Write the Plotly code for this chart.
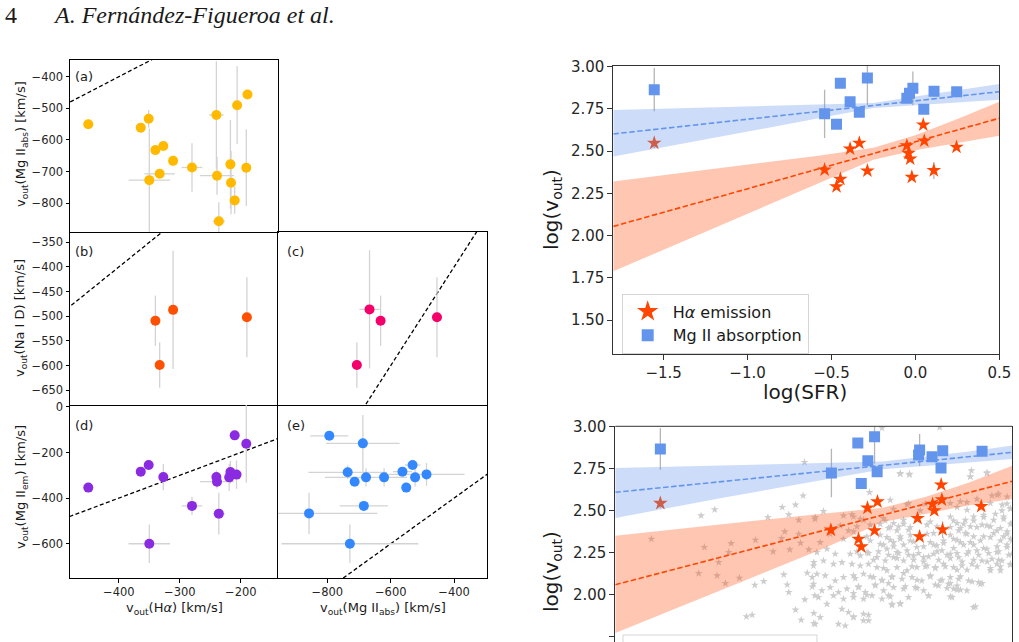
import plotly.graph_objects as go

W, H = 1019, 642
FONT = "DejaVu Sans"

# ---------------- data: left grid (velocities in km/s) ----------------
# (a) v_out(Halpha) vs v_out(Mg II abs)
a_vha = [-450, -364, -351, -350, -340, -327, -333, -311, -280, -240, -239, -236, -206, -189, -217, -216, -210, -191]
a_vmgabs = [-550, -561, -533, -727, -632, -619, -707, -666, -687, -521, -713, -857, -490, -456, -677, -735, -791, -688]
a_vha_err = [0, 0, 0, 34, 0, 0, 25, 0, 17, 12, 28, 10, 0, 0, 0, 0, 0, 0]
a_vmgabs_err = [8, 15, 28, 163, 12, 12, 10, 15, 77, 170, 60, 60, 123, 10, 140, 100, 42, 121]

# (b) v_out(Halpha) vs v_out(Na I D)
b_vha = [-340, -333, -311, -190]
b_vnad = [-509, -599, -487, -502]
b_vha_err = [0, 0, 0, 0]
b_vnad_err = [51, 46, 120, 81]

# (c) v_out(Mg II abs) vs v_out(Na I D)
c_vmgabs = [-667, -632, -707, -454]
c_vnad = [-486, -509, -599, -502]
c_vmgabs_err = [32, 13, 0, 0]
c_vnad_err = [120, 51, 46, 81]

# (d) v_out(Halpha) vs v_out(Mg II em)
d_vha = [-450, -364, -351, -327, -280, -240, -239, -236, -210, -191, -217, -219, -207, -350]
d_vmgem = [-354, -284, -255, -308, -434, -308, -328, -468, -125, -162, -286, -309, -297, -600]
d_vha_err = [0, 0, 0, 0, 17, 0, 28, 10, 0, 0, 0, 0, 0, 34]
d_vmgem_err = [0, 0, 0, 58, 40, 30, 30, 91, 20, 171, 50, 60, 62, 84]

# (e) v_out(Mg II abs) vs v_out(Mg II em)
e_vmgabs = [-794, -688, -736, -714, -678, -621, -563, -531, -523, -487, -551, -685, -858, -729]
e_vmgem = [-127, -160, -287, -328, -309, -309, -284, -255, -309, -296, -354, -434, -467, -600]
e_vmgabs_err = [60, 116, 124, 0, 130, 0, 30, 25, 0, 120, 0, 76, 216, 216]
e_vmgem_err = [15, 124, 30, 0, 40, 40, 0, 0, 40, 50, 0, 0, 91, 84]

one_to_one = [-1000, 0]

# ---------------- data: right panels (log SFR vs log v_out) ----------------
top_sfr_ha = [-1.556, -0.541, -0.470, -0.447, -0.389, -0.334, -0.286, -0.051, -0.041, -0.031, -0.021, 0.047, 0.053, 0.110, 0.245]
top_v_ha = [2.548, 2.390, 2.291, 2.335, 2.514, 2.548, 2.384, 2.533, 2.488, 2.455, 2.347, 2.656, 2.561, 2.386, 2.524]
top_v_ha_err = [0.03, 0, 0, 0, 0, 0, 0, 0, 0, 0, 0, 0, 0, 0.05, 0]
top_sfr_mg = [-1.556, -0.541, -0.470, -0.447, -0.389, -0.334, -0.286, -0.051, -0.035, -0.015, 0.050, 0.111, 0.246]
top_v_mg = [2.864, 2.721, 2.660, 2.902, 2.793, 2.731, 2.933, 2.813, 2.843, 2.872, 2.748, 2.855, 2.851]
top_v_mg_err = [0.128, 0.143, 0, 0, 0, 0, 0.16, 0, 0, 0.10, 0, 0, 0]

bot_sfr_ha = [-1.539, -0.551, -0.391, -0.375, -0.339, -0.281, -0.298, -0.049, -0.037, 0.038, 0.048, 0.088, 0.092, 0.096, 0.320]
bot_v_ha = [2.542, 2.383, 2.329, 2.283, 2.514, 2.551, 2.379, 2.452, 2.343, 2.537, 2.498, 2.652, 2.563, 2.385, 2.524]
bot_v_ha_err = [0.03, 0, 0, 0, 0, 0, 0, 0, 0, 0, 0, 0, 0, 0.05, 0]
bot_sfr_mg = [-1.539, -0.548, -0.395, -0.298, -0.337, -0.283, -0.375, -0.037, -0.043, 0.035, 0.097, 0.087, 0.325]
bot_v_mg = [2.865, 2.722, 2.901, 2.938, 2.795, 2.730, 2.660, 2.859, 2.829, 2.819, 2.855, 2.752, 2.851]
bot_v_mg_err = [0.124, 0.145, 0, 0.16, 0, 0, 0, 0.095, 0, 0, 0, 0, 0]

# fits and confidence bands
fit_sfr = [-1.8, -1.2, -0.6, -0.25, 0.0, 0.25, 0.5]
top_mg_fit = [2.602, 2.667, 2.732, 2.770, 2.798, 2.825, 2.852]
top_mg_hi = [2.744, 2.760, 2.776, 2.785, 2.823, 2.860, 2.898]
top_mg_lo = [2.468, 2.579, 2.690, 2.755, 2.772, 2.788, 2.805]
top_ha_fit = [2.055, 2.222, 2.389, 2.486, 2.555, 2.625, 2.695]
top_ha_hi = [2.321, 2.395, 2.470, 2.520, 2.595, 2.690, 2.793]
top_ha_lo = [1.789, 2.045, 2.300, 2.450, 2.505, 2.550, 2.591]

bot_mg_fit = [2.607, 2.669, 2.731, 2.767, 2.793, 2.819, 2.845]
bot_mg_hi = [2.752, 2.765, 2.780, 2.790, 2.820, 2.850, 2.885]
bot_mg_lo = [2.454, 2.570, 2.680, 2.745, 2.765, 2.785, 2.805]
bot_ha_fit = [2.057, 2.218, 2.378, 2.472, 2.539, 2.606, 2.673]
bot_ha_hi = [2.349, 2.415, 2.480, 2.515, 2.580, 2.665, 2.765]
bot_ha_lo = [1.770, 2.020, 2.270, 2.430, 2.480, 2.530, 2.567]

# comparison sample (grey stars, bottom panel) -- read in three sweeps
cmp_sfr_a = [-0.704, -0.712, -0.833, -0.756, -0.795, -0.916, -0.737, -0.644, -1.303, -1.224,
             -1.591, -1.284, -1.129, -1.143, -0.988, -0.818, -0.837, -0.737, -0.727, -0.789,
             -0.886, -0.679, -1.201, -1.317, -1.210, -1.162, -1.081, -0.992, -0.940, -0.824,
             -0.804, -0.795, -0.688, -0.659, -0.650, -0.659, -0.702, -0.644, -0.756, -0.723,
             -0.650, -0.650, -1.040, -1.007]
cmp_v_a = [2.786, 2.587, 2.518, 2.532, 2.474, 2.458, 2.442, 2.448, 2.468, 2.504,
           2.329, 2.280, 2.303, 2.250, 2.323, 2.373, 2.333, 2.359, 2.305, 2.266,
           2.254, 2.266, 2.190, 2.125, 2.111, 2.065, 2.097, 2.055, 2.077, 2.117,
           2.057, 2.012, 2.127, 2.101, 2.190, 2.045, 1.968, 1.992, 1.907, 1.847,
           1.887, 1.827, 1.867, 1.877]
cmp_sfr_b = [-0.255, 0.079, -0.149, -0.097, 0.263, 0.257, 0.353, -0.327, -0.207, -0.594,
             -0.642, -0.478, -0.429, -0.381, -0.188, -0.110, -0.033, -0.004, 0.180, 0.237,
             0.295, 0.382, 0.421, 0.469, 0.489, 0.440, 0.402, 0.450, 0.489, 0.334,
             0.276, 0.218, 0.160, 0.141, 0.189, 0.237, 0.295, 0.353, 0.411, 0.469,
             0.489, 0.431, 0.373, 0.315, 0.257, 0.199, 0.160, 0.102, 0.063, 0.025,
             0.006, -0.091, -0.130, -0.168, -0.207, -0.236, -0.265, -0.226, -0.188, -0.149,
             -0.091, -0.053, -0.110, -0.168, -0.226, -0.265, -0.323, -0.478, -0.449, -0.497,
             -0.555, -0.613, -0.632, -0.574, -0.526, -0.439, -0.381, -0.342, -0.284, -0.236,
             -0.188, -0.130, -0.072, -0.014, 0.044, 0.092, 0.141, 0.189, 0.237, 0.295,
             0.353, 0.411, 0.469, 0.498, 0.440, 0.382, 0.324, 0.266, 0.208, 0.160,
             0.102, 0.054, 0.006, -0.053, -0.110, -0.168, -0.226, -0.284, -0.333, -0.381,
             -0.429, -0.487, -0.536, -0.594, -0.652, -0.632, -0.584, -0.526, -0.478, -0.420,
             -0.362, -0.304, -0.255, -0.197, -0.139, -0.081, -0.024, 0.025, 0.083, 0.141,
             0.189, 0.247, 0.315, 0.373, 0.431, 0.489, 0.411, -0.652, -0.603, -0.555,
             -0.507, -0.458, -0.391, -0.352, -0.294, -0.246, -0.188, -0.130, -0.062, -0.014,
             0.073, 0.131, 0.180, 0.237, 0.305, -0.623, -0.574, -0.536, -0.478, -0.420,
             -0.362, -0.313, -0.255, -0.217, -0.149, -0.197, -0.101, 0.015, 0.151, 0.160,
             0.276, -0.487, -0.449, -0.613, -0.642, -0.507, -0.468, -0.420, -0.362, -0.333]
cmp_v_b = [2.990, 2.994, 2.716, 2.712, 2.736, 2.700, 2.720, 2.607, 2.561, 2.494,
           2.458, 2.468, 2.474, 2.448, 2.508, 2.534, 2.498, 2.538, 2.518, 2.547,
           2.567, 2.587, 2.597, 2.538, 2.508, 2.498, 2.478, 2.448, 2.418, 2.458,
           2.438, 2.418, 2.438, 2.399, 2.379, 2.359, 2.399, 2.409, 2.379, 2.359,
           2.329, 2.319, 2.339, 2.319, 2.309, 2.309, 2.329, 2.319, 2.290, 2.309,
           2.359, 2.399, 2.418, 2.379, 2.399, 2.438, 2.418, 2.339, 2.309, 2.329,
           2.319, 2.280, 2.260, 2.250, 2.270, 2.299, 2.319, 2.329, 2.379, 2.409,
           2.359, 2.309, 2.250, 2.270, 2.240, 2.240, 2.230, 2.250, 2.220, 2.200,
           2.220, 2.200, 2.230, 2.220, 2.240, 2.260, 2.240, 2.220, 2.240, 2.260,
           2.270, 2.250, 2.280, 2.240, 2.200, 2.210, 2.200, 2.180, 2.170, 2.160,
           2.180, 2.160, 2.170, 2.160, 2.141, 2.160, 2.141, 2.160, 2.180, 2.170,
           2.180, 2.190, 2.180, 2.200, 2.170, 2.121, 2.111, 2.081, 2.101, 2.111,
           2.121, 2.101, 2.081, 2.101, 2.091, 2.101, 2.081, 2.111, 2.081, 2.101,
           2.091, 2.081, 2.061, 2.141, 2.141, 2.180, 2.180, 2.061, 2.022, 2.041,
           2.012, 2.032, 2.041, 2.012, 2.051, 2.022, 2.041, 2.032, 2.041, 2.022,
           2.051, 2.061, 2.051, 2.022, 2.071, 1.982, 1.942, 1.992, 1.972, 1.982,
           1.972, 1.992, 1.972, 1.992, 1.942, 1.942, 1.982, 1.992, 1.982, 2.032,
           1.922, 1.912, 1.893, 1.863, 1.823, 1.823, 1.813, 1.863, 1.883, 1.843]
cmp_sfr_c = [-0.149, -0.095, 0.257, 0.354, 0.412, 0.470, -0.101, 0.141, 0.199, 0.238, 0.373, 0.441, 0.489,
             -0.420, -0.362, -0.246, -0.188, -0.130, 0.025, 0.141, 0.180, 0.228, 0.276, 0.334, 0.392, 0.450, 0.499,
             -0.400, -0.323, -0.217, -0.159, -0.101, 0.006, 0.064, 0.199, 0.257, 0.325, 0.373, 0.431, 0.470,
             -0.420, -0.342, -0.265, -0.207, -0.149, -0.091, 0.044, 0.141, 0.180, 0.228, 0.276, 0.334, 0.392, 0.450, 0.499,
             -0.246, -0.188, -0.130, -0.072, -0.014, 0.044, 0.102, 0.160, 0.218, 0.276, 0.334, 0.412, 0.470,
             -0.400, -0.333, -0.275, -0.217, -0.159, -0.101, -0.043, 0.015, 0.064, 0.122, 0.180, 0.247, 0.305, 0.363, 0.421, 0.479,
             -0.304, -0.168, -0.072, -0.014, 0.073, 0.141, 0.209, 0.276, 0.354, 0.421,
             -0.246, -0.081, -0.004, 0.054, 0.112, 0.180, 0.238, 0.296, 0.373, 0.431, 0.489,
             -0.410, -0.323, -0.255, -0.197, -0.130, -0.052, 0.025, 0.093, 0.141, 0.199, 0.267, 0.325,
             -0.391, -0.294, -0.217, -0.120, -0.052, 0.054, 0.122, 0.180,
             -0.342, -0.207, 0.015, 0.141, 0.199, -0.420,
             -0.197, -0.149, 0.286, -0.333, -0.362, -0.420]
cmp_v_c = [2.720, 2.716, 2.700, 2.724, 2.591, 2.581, 2.542, 2.542, 2.552, 2.502, 2.542, 2.532, 2.512,
           2.462, 2.442, 2.452, 2.423, 2.442, 2.432, 2.462, 2.423, 2.442, 2.462, 2.472, 2.442, 2.462, 2.423,
           2.403, 2.413, 2.393, 2.403, 2.383, 2.413, 2.403, 2.393, 2.403, 2.413, 2.403, 2.393, 2.373,
           2.373, 2.343, 2.353, 2.323, 2.343, 2.353, 2.363, 2.353, 2.323, 2.363, 2.343, 2.343, 2.363, 2.343, 2.323,
           2.294, 2.284, 2.294, 2.313, 2.284, 2.294, 2.304, 2.274, 2.294, 2.294, 2.274, 2.284, 2.294,
           2.254, 2.244, 2.254, 2.234, 2.244, 2.234, 2.244, 2.224, 2.254, 2.234, 2.244, 2.254, 2.234, 2.244, 2.254, 2.234,
           2.204, 2.214, 2.204, 2.194, 2.204, 2.214, 2.194, 2.204, 2.194, 2.204,
           2.155, 2.165, 2.165, 2.155, 2.165, 2.145, 2.145, 2.165, 2.155, 2.165, 2.175,
           2.095, 2.105, 2.085, 2.105, 2.125, 2.085, 2.105, 2.085, 2.065, 2.105, 2.075, 2.065,
           2.046, 2.056, 2.065, 2.046, 2.036, 2.056, 2.036, 2.026,
           1.996, 1.986, 1.990, 1.986, 2.026, 2.006,
           1.936, 1.946, 1.927, 1.877, 1.843, 1.867]
cmp_sfr = cmp_sfr_a + cmp_sfr_b + cmp_sfr_c
cmp_v = cmp_v_a + cmp_v_b + cmp_v_c

# ---------------- styles / layout helpers ----------------
HA_COL = "#FF4500"
MG_COL = "#6495ED"
ERR_L = "#d3d3d3"
ERR_R = "#b5b5b5"


def xdom(a, b):
    return [a / W, b / W]


def ydom(t, b):
    return [1 - b / H, 1 - t / H]


def ax(n):
    return ("x" if n == 1 else f"x{n}"), ("y" if n == 1 else f"y{n}")


fig = go.Figure()

panels = [
    (1, a_vha, a_vmgabs, a_vha_err, a_vmgabs_err, "#FFBA00"),
    (2, b_vha, b_vnad, b_vha_err, b_vnad_err, "#FF4F00"),
    (3, c_vmgabs, c_vnad, c_vmgabs_err, c_vnad_err, "#F5006A"),
    (4, d_vha, d_vmgem, d_vha_err, d_vmgem_err, "#8A2BE2"),
    (5, e_vmgabs, e_vmgem, e_vmgabs_err, e_vmgem_err, "#3388FF"),
]
for n, xs, ys, xe, ye, col in panels:
    xa, ya = ax(n)
    fig.add_trace(go.Scatter(x=one_to_one, y=one_to_one, mode="lines", xaxis=xa, yaxis=ya,
                             line=dict(color="black", width=1.3, dash="4px,2.5px"),
                             showlegend=False, hoverinfo="skip"))
    fig.add_trace(go.Scatter(x=xs, y=ys, mode="markers", xaxis=xa, yaxis=ya,
                             marker=dict(color=col, size=10),
                             error_x=dict(type="data", array=xe, color=ERR_L, thickness=1.3, width=0),
                             error_y=dict(type="data", array=ye, color=ERR_L, thickness=1.3, width=0),
                             showlegend=False, hoverinfo="skip"))

# right panels
fig.add_trace(go.Scatter(x=cmp_sfr, y=cmp_v, mode="markers", xaxis="x7", yaxis="y7",
                         marker=dict(symbol="star", color="#cdcdcd", size=6, line=dict(width=0)),
                         showlegend=False, hoverinfo="skip"))

right = [
    ("x6", "y6", top_sfr_ha, top_v_ha, top_v_ha_err, top_sfr_mg, top_v_mg, top_v_mg_err,
     top_mg_fit, top_mg_hi, top_mg_lo, top_ha_fit, top_ha_hi, top_ha_lo),
    ("x7", "y7", bot_sfr_ha, bot_v_ha, bot_v_ha_err, bot_sfr_mg, bot_v_mg, bot_v_mg_err,
     bot_mg_fit, bot_mg_hi, bot_mg_lo, bot_ha_fit, bot_ha_hi, bot_ha_lo),
]
for xa, ya, sh, vh, vhe, sm, vm, vme, mf, mh, ml, hf, hh, hl in right:
    fig.add_trace(go.Scatter(x=sh, y=vh, mode="markers", xaxis=xa, yaxis=ya,
                             marker=dict(symbol="star", color=HA_COL, size=11, line=dict(width=0)),
                             error_y=dict(type="data", array=vhe, color=ERR_R, thickness=1.3, width=0),
                             showlegend=False, hoverinfo="skip"))
    fig.add_trace(go.Scatter(x=sm, y=vm, mode="markers", xaxis=xa, yaxis=ya,
                             marker=dict(symbol="square", color=MG_COL, size=11, line=dict(width=0)),
                             error_y=dict(type="data", array=vme, color=ERR_R, thickness=1.3, width=0),
                             showlegend=False, hoverinfo="skip"))
    for hi, lo, col in [(mh, ml, "rgba(100,149,237,0.32)"), (hh, hl, "rgba(255,69,0,0.30)")]:
        fig.add_trace(go.Scatter(x=fit_sfr + fit_sfr[::-1], y=hi + lo[::-1], mode="lines",
                                 fill="toself", fillcolor=col, line=dict(width=0),
                                 xaxis=xa, yaxis=ya, showlegend=False, hoverinfo="skip"))
    fig.add_trace(go.Scatter(x=fit_sfr, y=mf, mode="lines", xaxis=xa, yaxis=ya,
                             line=dict(color=MG_COL, width=1.6, dash="5.5px,2.5px"),
                             showlegend=False, hoverinfo="skip"))
    fig.add_trace(go.Scatter(x=fit_sfr, y=hf, mode="lines", xaxis=xa, yaxis=ya,
                             line=dict(color=HA_COL, width=1.6, dash="5.5px,2.5px"),
                             showlegend=False, hoverinfo="skip"))

# legend entries
fig.add_trace(go.Scatter(x=[None], y=[None], mode="markers", xaxis="x6", yaxis="y6",
                         marker=dict(symbol="star", color=HA_COL, size=16),
                         name="H<i>α</i> emission"))
fig.add_trace(go.Scatter(x=[None], y=[None], mode="markers", xaxis="x6", yaxis="y6",
                         marker=dict(symbol="square", color=MG_COL, size=12),
                         name="Mg II absorption"))

base = dict(showline=True, linecolor="black", linewidth=1,
            showgrid=False, zeroline=False, ticks="outside", ticklen=3.5,
            tickwidth=0.8, tickcolor="black",
            tickfont=dict(size=11.5, color="#262626", family=FONT))


def lax(mirror, labels=True, **kw):
    d = dict(base)
    d["mirror"] = mirror
    if not labels:
        d["showticklabels"] = False
        d["ticks"] = ""
    d.update(kw)
    return d


C1, C2 = (70, 278), (278, 487)
R1, R2, R3 = (60, 232), (232, 405), (405, 578)
ha_range = [-480, -139]
mgabs_range = [-956, -296]
a_range = [-891, -347]
nad_range = [-680, -329]
mgem_range = [-750, 8]

right_common = dict(showline=True, mirror=True, linecolor="#333333", linewidth=1,
                    showgrid=False, zeroline=False, ticks="outside", ticklen=5,
                    tickwidth=1, tickcolor="#333333",
                    tickfont=dict(size=15, color="#262626", family=FONT))

fig.update_layout(
    width=W, height=H, margin=dict(l=0, r=0, t=0, b=0, autoexpand=False),
    paper_bgcolor="white", plot_bgcolor="white",
    font=dict(family=FONT, color="#1a1a1a"),
    xaxis=lax(True, False, domain=xdom(*C1), anchor="y", range=ha_range),
    yaxis=lax(True, True, domain=ydom(*R1), anchor="x", range=a_range, tickvals=[-800, -700, -600, -500, -400]),
    xaxis2=lax(False, False, domain=xdom(*C1), anchor="y2", range=ha_range),
    yaxis2=lax(False, True, domain=ydom(*R2), anchor="x2", range=nad_range, tickvals=[-650, -600, -550, -500, -450, -400, -350]),
    xaxis3=lax(True, False, domain=xdom(*C2), anchor="y3", range=mgabs_range),
    yaxis3=lax(True, False, domain=ydom(*R2), anchor="x3", range=nad_range),
    xaxis4=lax(False, True, domain=xdom(*C1), anchor="y4", range=ha_range, tickvals=[-400, -300, -200]),
    yaxis4=lax(False, True, domain=ydom(*R3), anchor="x4", range=mgem_range, tickvals=[-600, -400, -200, 0]),
    xaxis5=lax(False, True, domain=xdom(*C2), anchor="y5", range=mgabs_range, tickvals=[-800, -600, -400]),
    yaxis5=lax(True, False, domain=ydom(*R3), anchor="x5", range=mgem_range),
    xaxis6=dict(domain=xdom(613.3, 999.3), anchor="y6", range=[-1.8, 0.5],
                tickvals=[-1.5, -1.0, -0.5, 0.0, 0.5], tickformat=".1f", **right_common),
    yaxis6=dict(domain=ydom(66, 354), anchor="x6", range=[1.3, 3.004],
                tickvals=[1.5, 1.75, 2.0, 2.25, 2.5, 2.75, 3.0], tickformat=".2f", **right_common),
    xaxis7=dict(domain=xdom(615.3, 1012.3), anchor="y7", range=[-1.8, 0.5], visible=False),
    yaxis7=dict(domain=[0, 1 - 426.3 / H], anchor="x7", range=[1.716, 3.0],
                tickvals=[1.75, 2.0, 2.25, 2.5, 2.75, 3.0], tickformat=".2f", **right_common),
    legend=dict(x=621.7 / W, y=1 - 293.5 / H, xanchor="left", yanchor="top",
                bgcolor="white", bordercolor="#d5d5d5", borderwidth=1,
                font=dict(size=16, family=FONT, color="#1a1a1a"),
                itemwidth=40, tracegroupgap=0),
)

# top frame of the cropped bottom-right panel and its cropped legend box
fig.add_shape(type="line", xref="paper", yref="paper", x0=615.3 / W, x1=1012.3 / W,
              y0=1 - 426.3 / H, y1=1 - 426.3 / H, line=dict(color="#333333", width=1))
fig.add_shape(type="rect", xref="paper", yref="paper", x0=623 / W, x1=817 / W,
              y0=-0.2, y1=1 - 635 / H, line=dict(color="#d5d5d5", width=1),
              fillcolor="white", layer="above")


def note(text, px, py, size, angle=0, xanchor="center", family=FONT):
    fig.add_annotation(text=text, x=px / W, y=1 - py / H, xref="paper", yref="paper",
                       showarrow=False, textangle=angle, xanchor=xanchor, yanchor="middle",
                       font=dict(size=size, family=family, color="#1a1a1a"))


note("v<sub>out</sub>(Mg II<sub>abs</sub>) [km/s]", 21, 144, 13, -90)
note("v<sub>out</sub>(Na I D) [km/s]", 21, 318, 13, -90)
note("v<sub>out</sub>(Mg II<sub>em</sub>) [km/s]", 21, 487, 13, -90)
note("v<sub>out</sub>(H<i>α</i>) [km/s]", 174, 608, 13)
note("v<sub>out</sub>(Mg II<sub>abs</sub>) [km/s]", 383, 608, 13)
note("log(SFR)", 805, 392, 20)
note("log(v<sub>out</sub>)", 552, 210, 20, -90)
note("log(v<sub>out</sub>)", 552, 572, 20, -90)
for lab, px, py in [("(a)", 73, 77), ("(b)", 73, 251), ("(c)", 285, 251), ("(d)", 73, 425), ("(e)", 285, 425)]:
    note(lab, px, py, 13, xanchor="left")
note("4", 3, 15, 24, xanchor="left", family="Liberation Serif")
note("<i>A. Fernández-Figueroa et al.</i>", 51, 15, 24, xanchor="left", family="Liberation Serif")

fig.write_html("out.html")
